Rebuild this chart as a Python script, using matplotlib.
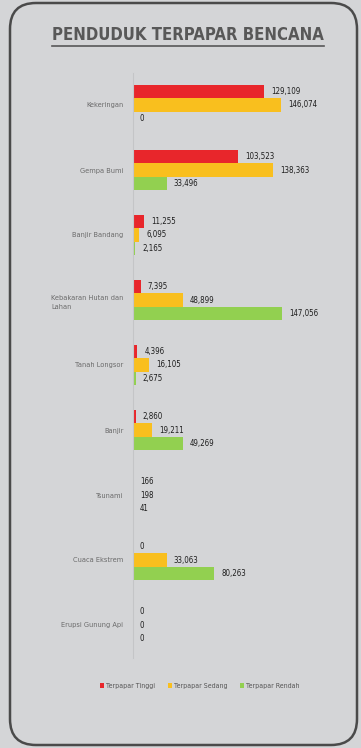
import matplotlib.pyplot as plt
import numpy as np
from matplotlib.patches import FancyBboxPatch
from matplotlib.lines import Line2D

plt.rcParams['font.family'] = ['DejaVu Sans']
plt.rcParams['font.stretch'] = 'condensed'

categories = ['Kekeringan', 'Gempa Bumi', 'Banjir Bandang', 'Kebakaran Hutan dan\nLahan',
              'Tanah Longsor', 'Banjir', 'Tsunami', 'Cuaca Ekstrem', 'Erupsi Gunung Api']
tinggi = [129109, 103523, 11255, 7395, 4396, 2860, 166, 0, 0]
sedang = [146074, 138363, 6095, 48899, 16105, 19211, 198, 33063, 0]
rendah = [0, 33496, 2165, 147056, 2675, 49269, 41, 80263, 0]
series = ['Terpapar Tinggi', 'Terpapar Sedang', 'Terpapar Rendah']
colors = ['#e8262b', '#f9bf1e', '#92d050']

bg = '#d4d5d7'
fig = plt.figure(figsize=(3.61, 7.48), dpi=100, facecolor=bg)

# rounded frame
frame = FancyBboxPatch((0.10, 0.03), 3.47, 7.42, boxstyle='round,pad=0,rounding_size=0.26',
                       transform=fig.dpi_scale_trans, facecolor='none', edgecolor='#4a4a4a',
                       linewidth=1.8, zorder=-1)
fig.patches.append(frame)

ax = fig.add_axes([133 / 361, 1 - 657.5 / 748, 203 / 361, 585 / 748])
ax.set_facecolor('none')

y = np.arange(len(categories))
h = 0.205
step = 0.21
for i, (vals, name, c) in enumerate(zip([tinggi, sedang, rendah], series, colors)):
    pos = y + (i - 1) * step
    ax.barh(pos, vals, height=h, color=c, label=name)
    for p, v in zip(pos, vals):
        ax.annotate(f'{v:,}', (v, p), xytext=(5, 0), textcoords='offset points',
                    va='center', ha='left', fontsize=5.7, color='#1e1e1e')

ax.set_xlim(0, 200000)
ax.set_ylim(len(categories) - 0.5, -0.5)
ax.set_yticks(y)
ax.set_yticklabels(categories, fontsize=5.3, color='#6a6a6a', multialignment='left',
                   linespacing=1.7)
ax.tick_params(axis='y', length=0, pad=7)
ax.set_xticks([])
for s in ['top', 'right', 'bottom']:
    ax.spines[s].set_visible(False)
ax.spines['left'].set_color('#c4c5c7')
ax.spines['left'].set_linewidth(0.8)

leg = fig.legend(loc='center', bbox_to_anchor=(200 / 361, 1 - 686 / 748), ncol=3,
                 frameon=False, fontsize=5, handlelength=0.6, handleheight=0.6,
                 handletextpad=0.3, columnspacing=1.8)
for t in leg.get_texts():
    t.set_color('#555555')

title = fig.text(188 / 361, 1 - 35 / 748, 'PENDUDUK TERPAPAR BENCANA', ha='center', va='center',
                 fontsize=12, fontweight='bold', color='#585858')
fig.canvas.draw()
bb = title.get_window_extent().transformed(fig.transFigure.inverted())
fig.add_artist(Line2D([bb.x0, bb.x1], [bb.y0 - 0.003, bb.y0 - 0.003], transform=fig.transFigure,
                      color='#585858', linewidth=1.2))

fig.savefig('out.png', dpi=100, facecolor=bg)
